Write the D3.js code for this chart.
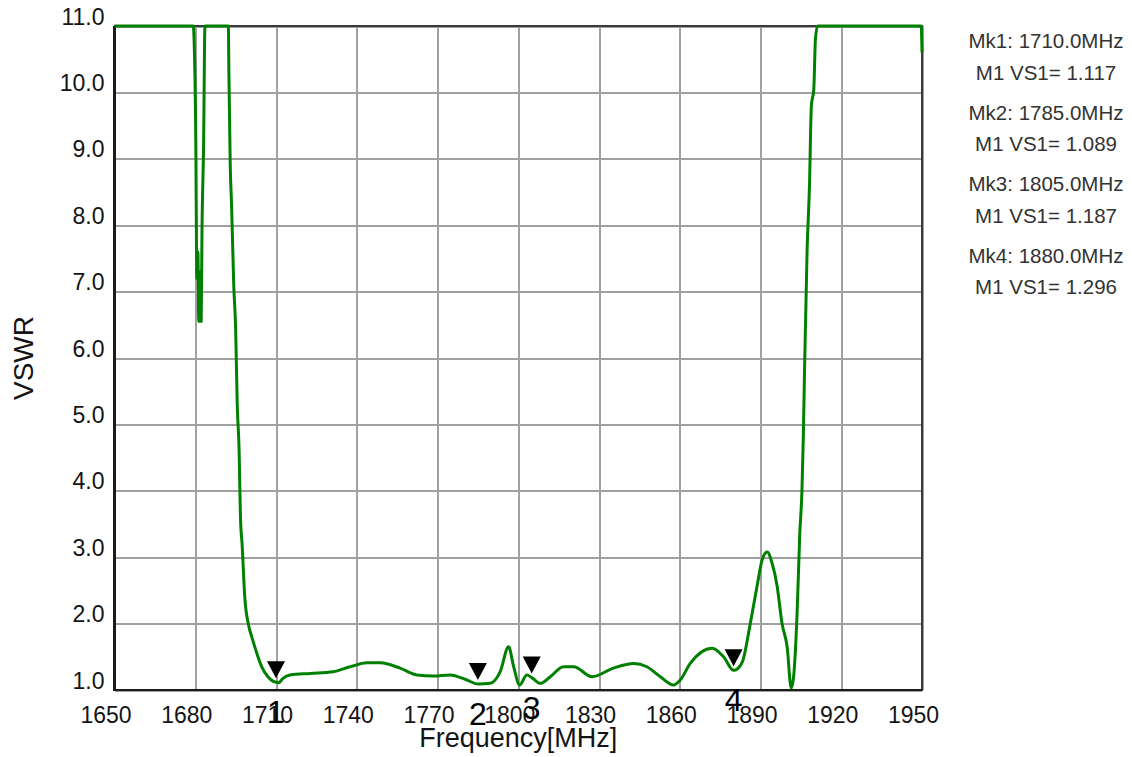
<!DOCTYPE html>
<html>
<head>
<meta charset="utf-8">
<script src="https://cdn.jsdelivr.net/npm/d3@7"></script>
<style>
  html, body { margin: 0; padding: 0; background: #fff; }
  svg { display: block; }
  text { font-family: "Liberation Sans", Arial, sans-serif; }
</style>
</head>
<body>
<svg id="chart" width="1132" height="757"></svg>
<script>
// VSWR sweep, 1650–1950 MHz
const freqMHz = [
  1650, 1679.3, 1679.6, 1680.2, 1680.6, 1681.0, 1681.3, 1681.8, 1682.2, 1682.5,
  1683.1, 1683.6, 1692.3, 1692.5, 1693.0, 1693.5, 1694.3, 1695.0, 1695.6, 1696.3,
  1696.8, 1697.4, 1698.4, 1699.8, 1701.0, 1702.5, 1704.7, 1707.0, 1709.0, 1710.0,
  1711.0, 1712.5, 1715.2, 1722.7, 1731.2, 1737.5, 1743.8, 1748.7, 1756.1, 1762.3,
  1768.5, 1774.7, 1780.9, 1785.0, 1789.6, 1793.3, 1796.4, 1798.3, 1800.5, 1803.2,
  1805.0, 1808.2, 1811.9, 1816.8, 1820.6, 1827.4, 1835.4, 1842.9, 1847.8, 1852.8,
  1857.7, 1860.2, 1863.9, 1872.0, 1876.3, 1880.0, 1881.5, 1883.5, 1886.2, 1888.7,
  1890.6, 1892.5, 1894.3, 1896.2, 1898.0, 1899.9, 1901.4, 1902.3, 1903.6, 1904.6,
  1905.4, 1905.9, 1906.4, 1907.3, 1908.2, 1908.9, 1909.8, 1910.4, 1911.2, 1949.7,
  1950
];
const vswr = [
  11, 11, 10.75, 9.3, 7.2, 7.6, 6.55, 7.3, 6.55, 7.9,
  9.2, 11, 11, 10.3, 8.9, 8.3, 7.1, 6.45, 5.3, 4.6,
  3.6, 3.2, 2.4, 1.98, 1.8, 1.6, 1.35, 1.2, 1.13, 1.117,
  1.11, 1.17, 1.226, 1.25, 1.275, 1.35, 1.41, 1.41, 1.33, 1.226,
  1.21, 1.226, 1.15, 1.089, 1.10, 1.276, 1.65, 1.35, 1.075, 1.226,
  1.187, 1.10, 1.2, 1.35, 1.35, 1.2, 1.33, 1.40, 1.35, 1.2,
  1.075, 1.15, 1.40, 1.63, 1.50, 1.296, 1.32, 1.45, 2.0, 2.56,
  2.96, 3.08, 2.91, 2.56, 2.0, 1.65, 1.03, 1.2, 2.16, 3.36,
  4.0, 4.8, 5.9, 7.6, 8.6, 9.8, 10.05, 10.8, 11, 11,
  10.6
];

// Markers
const markerFreq = [1710.0, 1785.0, 1805.0, 1880.0];
const markerVswr = [1.117, 1.089, 1.187, 1.296];

// Axis ticks
const xTicks = [1650, 1680, 1710, 1740, 1770, 1800, 1830, 1860, 1890, 1920, 1950];
const yTicks = [1, 2, 3, 4, 5, 6, 7, 8, 9, 10, 11];

const svg = d3.select("#chart");
const plotL = 114.5, plotR = 922, plotT = 26, plotB = 690;
const W = plotR - plotL, H = plotB - plotT;

const x = d3.scaleLinear().domain([1650, 1950]).range([plotL, plotR]);
const y = d3.scaleLinear().domain([1, 11]).range([plotB, plotT]);

// Grid + y tick labels
const gy = svg.append("g")
  .attr("transform", `translate(${plotL},0)`)
  .call(d3.axisLeft(y).tickValues(yTicks).tickSize(-W).tickPadding(10)
    .tickFormat(d3.format(".1f")));
gy.select(".domain").remove();
gy.selectAll(".tick line").attr("stroke", "#a0a0a0").attr("stroke-width", 2)
  .attr("shape-rendering", "crispEdges");
gy.selectAll(".tick text").attr("dy", -2).attr("fill", "#141414")
  .style("font-size", "23px");

// Grid + x tick labels
const gx = svg.append("g")
  .attr("transform", `translate(0,${plotB})`)
  .call(d3.axisBottom(x).tickValues(xTicks).tickSize(-H).tickFormat(d3.format("d")));
gx.select(".domain").remove();
gx.selectAll(".tick line").attr("stroke", "#a0a0a0").attr("stroke-width", 2)
  .attr("shape-rendering", "crispEdges");
gx.selectAll(".tick text").attr("y", 33).attr("dy", 0).attr("dx", -9)
  .attr("fill", "#141414").style("font-size", "23px");

// Plot frame
svg.append("rect")
  .attr("x", plotL).attr("y", plotT).attr("width", W).attr("height", H)
  .attr("fill", "none").attr("stroke", "#3a3a3a").attr("stroke-width", 2)
  .attr("shape-rendering", "crispEdges");
svg.append("path")
  .attr("d", `M${plotL},${plotT}V${plotB}H${plotR}`)
  .attr("fill", "none").attr("stroke", "#1a1a1a").attr("stroke-width", 2.5)
  .attr("shape-rendering", "crispEdges");

// Axis titles
svg.append("text")
  .attr("x", (plotL + plotR) / 2).attr("y", 747)
  .attr("text-anchor", "middle").attr("fill", "#141414")
  .style("font-size", "27px")
  .text("Frequency[MHz]");
svg.append("text")
  .attr("transform", `translate(23,${(plotT + plotB) / 2}) rotate(-90)`)
  .attr("text-anchor", "middle").attr("dominant-baseline", "central")
  .attr("fill", "#141414").style("font-size", "28px")
  .text("VSWR");

// Trace
const pts = freqMHz.map((f, i) => [f, vswr[i]]);
svg.append("path")
  .datum(pts)
  .attr("d", d3.line().x(d => x(d[0])).y(d => y(d[1])).curve(d3.curveMonotoneX))
  .attr("fill", "none").attr("stroke", "#008000").attr("stroke-width", 3)
  .attr("stroke-linejoin", "round");

// Marker triangles and numbers
const markers = markerFreq.map((f, i) => ({ f, v: markerVswr[i], n: i + 1 }));
const mk = svg.append("g").selectAll("g").data(markers).join("g");
mk.append("path")
  .attr("d", d => {
    const cx = x(d.f), tip = y(d.v) - 4;
    return `M${cx - 9},${tip - 17}L${cx + 9},${tip - 17}L${cx},${tip}Z`;
  })
  .attr("fill", "#000");
mk.append("text")
  .attr("x", d => x(d.f)).attr("y", d => y(d.v) + 30)
  .attr("text-anchor", "middle").attr("dominant-baseline", "central")
  .attr("fill", "#000").style("font-size", "32px")
  .text(d => d.n);

// Marker readouts
const info = svg.append("g").selectAll("g").data(markers).join("g")
  .attr("transform", (d, i) => `translate(1046,${40.7 + i * 71.5})`);
info.append("text")
  .attr("text-anchor", "middle").attr("dominant-baseline", "central")
  .attr("fill", "#333").style("font-size", "20.5px")
  .text(d => `Mk${d.n}: ${d.f.toFixed(1)}MHz`);
info.append("text")
  .attr("y", 31.5)
  .attr("text-anchor", "middle").attr("dominant-baseline", "central")
  .attr("fill", "#333").style("font-size", "20.5px")
  .text(d => `M1 VS1= ${d.v.toFixed(3)}`);
</script>
</body>
</html>
